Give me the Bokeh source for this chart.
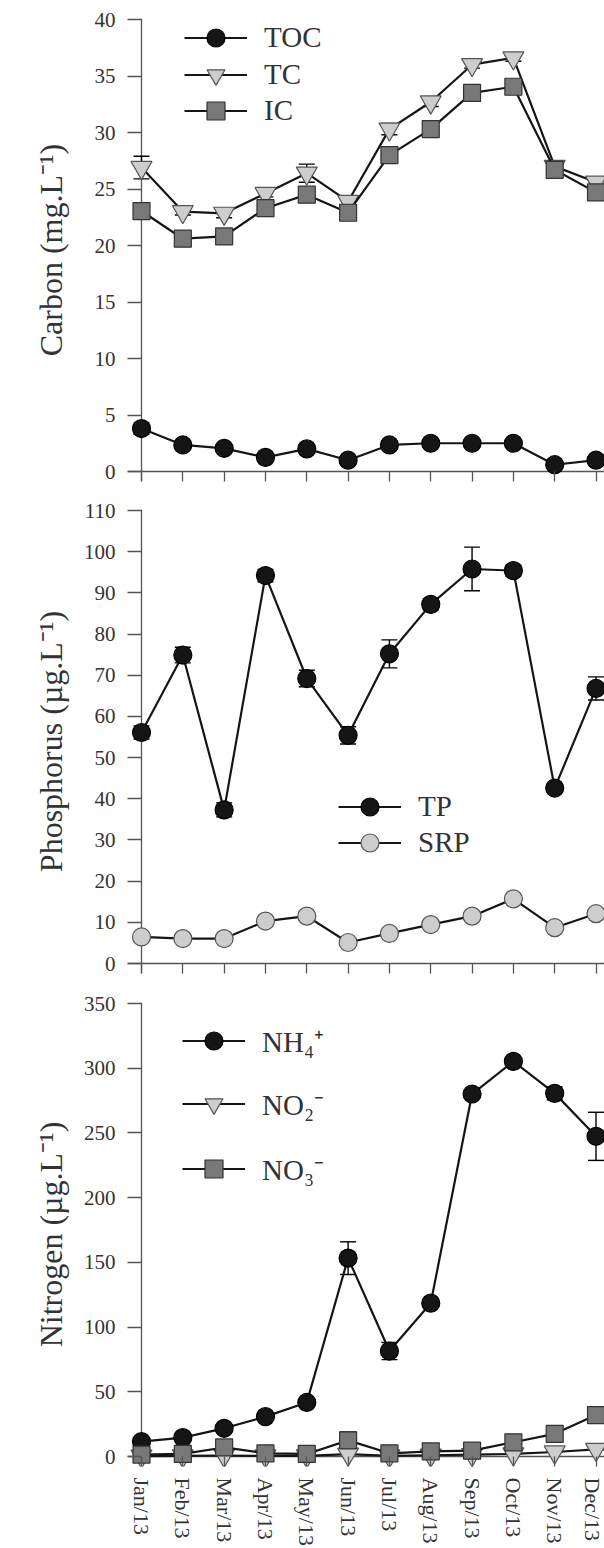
from bokeh.plotting import figure
from bokeh.models import (ColumnDataSource, Range1d, FixedTicker, Whisker, TeeHead,
                          Legend, LegendItem, Span)
from bokeh.layouts import column
from bokeh.embed import file_html
from bokeh.resources import INLINE

# ---------------- data ----------------
months = ["Jan/13", "Feb/13", "Mar/13", "Apr/13", "May/13", "Jun/13",
          "Jul/13", "Aug/13", "Sep/13", "Oct/13", "Nov/13", "Dec/13"]

toc = [3.8, 2.35, 2.05, 1.25, 2.0, 1.0, 2.35, 2.5, 2.5, 2.5, 0.6, 1.0]
toc_err = [0.5, 0.2, 0.2, 0.2, 0.2, 0.1, 0.2, 0.1, 0.1, 0.1, 0.1, 0.1]
tc = [26.9, 23.0, 22.85, 24.6, 26.4, 23.9, 30.3, 32.7, 36.0, 36.6, 27.0, 25.6]
tc_err = [1.0, 0.3, 0.4, 0.3, 0.8, 0.3, 0.5, 0.4, 0.3, 0.3, 0.4, 0.3]
ic = [23.05, 20.6, 20.8, 23.3, 24.5, 22.9, 28.0, 30.3, 33.5, 34.05, 26.7, 24.7]
ic_err = [0.4, 0.2, 0.3, 0.5, 0.6, 0.3, 0.4, 0.4, 0.3, 0.3, 0.3, 0.2]

tp = [56.1, 74.9, 37.3, 94.2, 69.2, 55.4, 75.2, 87.2, 95.8, 95.4, 42.6, 66.8]
tp_err = [1.6, 1.9, 1.7, 1.5, 2.0, 2.1, 3.4, 1.3, 5.3, 1.3, 0.5, 2.8]
srp = [6.45, 6.05, 6.05, 10.3, 11.5, 5.1, 7.3, 9.45, 11.5, 15.7, 8.7, 12.1]
srp_err = [0.5, 0.3, 0.3, 0.5, 0.6, 0.3, 0.4, 0.4, 0.4, 0.5, 0.4, 0.5]

nh4 = [11.5, 14.6, 21.8, 30.8, 41.8, 153.3, 81.5, 118.5, 280.1, 305.3, 280.6, 247.4]
nh4_err = [1.5, 1.5, 2.0, 2.0, 2.0, 12.6, 6.6, 2.0, 2.0, 2.0, 5.0, 18.6]
no2 = [0.3, 0.5, 0.8, 0.5, 0.5, 1.8, 0.5, 1.0, 1.5, 2.0, 3.5, 5.5]
no2_err = [0.2, 0.2, 0.2, 0.2, 0.2, 0.3, 0.2, 0.2, 0.2, 0.3, 0.3, 0.4]
no3 = [1.5, 2.0, 7.0, 2.5, 2.0, 12.5, 2.5, 4.0, 4.5, 11.0, 17.5, 32.0]
no3_err = [0.5, 0.5, 1.0, 0.5, 0.5, 6.5, 0.5, 0.5, 0.5, 1.0, 1.0, 1.5]

carbon_ticks = list(range(0, 41, 5))
phos_ticks = list(range(0, 111, 10))
nitro_ticks = list(range(0, 351, 50))

x = list(range(len(months)))

# ---------------- style ----------------
FONT = "Liberation Serif"
TXT = "#333333"
AX = "#555555"
BLACK = "#151515"
LIGHT = "#cdcdcd"
MID = "#787878"
W = 604
LEFT = 127          # frame left edge (px)
X_PX = 41.32        # px per month
X0 = 14             # px from frame left to Jan
TICK_IN = 10        # px between zero line and frame bottom


def make_fig(height, top, bottom, zero_px, ppu, ticks, ylabel, label_standoff, x_labels):
    frame_h = height - top - bottom
    y_end = (zero_px - top) / ppu
    y_start = y_end - frame_h / ppu
    frame_w = W - LEFT
    x_start = -X0 / X_PX
    x_end = x_start + frame_w / X_PX
    p = figure(width=W, height=height,
               x_range=Range1d(x_start, x_end), y_range=Range1d(y_start, y_end),
               output_backend="svg", toolbar_location=None,
               min_border_left=LEFT, min_border_right=0,
               min_border_top=top, min_border_bottom=bottom)
    p.outline_line_color = None
    p.grid.visible = False
    p.background_fill_color = "white"

    # axis lines through zero (drawn under the data)
    p.add_layout(Span(location=0, dimension="width", line_color=AX,
                      line_width=1.3, level="underlay"))
    p.add_layout(Span(location=0, dimension="height", line_color=AX,
                      line_width=1.3, level="underlay"))

    xa = p.xaxis[0]
    xa.ticker = FixedTicker(ticks=x)
    xa.axis_line_color = None
    xa.major_tick_in = TICK_IN
    xa.major_tick_out = 0
    xa.minor_tick_line_color = None
    xa.major_tick_line_color = AX
    xa.major_tick_line_width = 1.3
    if x_labels:
        xa.major_label_overrides = {i: m for i, m in enumerate(months)}
        xa.major_label_orientation = "vertical"
        xa.major_label_standoff = 11
        xa.major_label_text_font = FONT
        xa.major_label_text_font_size = "22px"
        xa.major_label_text_color = TXT
    else:
        xa.major_label_overrides = {i: "" for i in x}
        xa.major_label_standoff = 0

    ya = p.yaxis[0]
    ya.ticker = FixedTicker(ticks=ticks)
    ya.axis_line_color = None
    ya.major_tick_in = X0
    ya.major_tick_out = 0
    ya.minor_tick_line_color = None
    ya.major_tick_line_color = AX
    ya.major_tick_line_width = 1.3
    ya.major_label_standoff = 12
    ya.major_label_text_font = FONT
    ya.major_label_text_font_size = "21px"
    ya.major_label_text_color = TXT
    ya.axis_label = ylabel
    ya.axis_label_text_font = FONT
    ya.axis_label_text_font_size = "32px"
    ya.axis_label_text_font_style = "normal"
    ya.axis_label_text_color = TXT
    ya.axis_label_standoff = label_standoff
    return p


def add_series(p, vals, errs, marker, size, fill, line):
    lo = [v - e for v, e in zip(vals, errs)]
    hi = [v + e for v, e in zip(vals, errs)]
    src = ColumnDataSource(dict(x=x, y=vals, lo=lo, hi=hi))
    w = Whisker(source=src, base="x", upper="hi", lower="lo", dimension="height",
                line_color="black", line_width=1.4,
                upper_head=TeeHead(size=16, line_color="black", line_width=1.4),
                lower_head=TeeHead(size=16, line_color="black", line_width=1.4))
    p.add_layout(w)
    ln = p.line("x", "y", source=src, line_color=BLACK, line_width=2.2)
    sc = p.scatter("x", "y", source=src, marker=marker, size=size,
                   fill_color=fill, line_color=line, line_width=1.2)
    return ln, sc


def add_legend_rows(p, items, frame_bottom, x_px, row_centers):
    # one single-row legend per entry, so each row sits where the reference has it
    for (lab, rends), yc in zip(items, row_centers):
        lg = Legend(items=[LegendItem(label=lab, renderers=list(rends))],
                    location=(x_px - LEFT, frame_bottom - (yc + 22.5)),
                    glyph_width=63, glyph_height=45, label_height=45,
                    spacing=0, label_standoff=17, padding=0, margin=0,
                    border_line_color=None, background_fill_alpha=0,
                    label_text_font=FONT, label_text_font_size="29px",
                    label_text_color=TXT)
        p.add_layout(lg)


# ---------------- carbon ----------------
H1, T1, B1 = 496, 18, 15
p1 = make_fig(H1, T1, B1, 471, 11.3, carbon_ticks,
              "Carbon (mg.L\u207b\u00b9)", 23, False)
r_toc = add_series(p1, toc, toc_err, "circle", 18, BLACK, "black")
r_tc = add_series(p1, tc, tc_err, "inverted_triangle", 21, LIGHT, "#555555")
r_ic = add_series(p1, ic, ic_err, "square", 17, MID, "#333333")
add_legend_rows(p1, [("TOC", r_toc), ("TC", r_tc), ("IC", r_ic)],
                H1 - B1, 184, [37, 74, 110])

# ---------------- phosphorus ----------------
H2, T2, B2 = 494, 13, 17
O2 = H1
p2 = make_fig(H2, T2, B2, 963 - O2, 4.118, phos_ticks,
              "Phosphorus (\u00b5g.L\u207b\u00b9)", 12, False)
r_tp = add_series(p2, tp, tp_err, "circle", 18, BLACK, "black")
r_srp = add_series(p2, srp, srp_err, "circle", 18, LIGHT, "#555555")
add_legend_rows(p2, [("TP", r_tp), ("SRP", r_srp)],
                H2 - B2, 338, [806 - O2, 842 - O2])

# ---------------- nitrogen ----------------
H3, T3, B3 = 558, 12, 81
O3 = H1 + H2
p3 = make_fig(H3, T3, B3, 1457 - O3, 1.297, nitro_ticks,
              "Nitrogen (\u00b5g.L\u207b\u00b9)", 12, True)
r_nh4 = add_series(p3, nh4, nh4_err, "circle", 18, BLACK, "black")
r_no2 = add_series(p3, no2, no2_err, "inverted_triangle", 21, LIGHT, "#555555")
r_no3 = add_series(p3, no3, no3_err, "square", 17, MID, "#333333")
add_legend_rows(p3, [("NH\u2084\u207a", r_nh4), ("NO\u2082\u207b", r_no2), ("NO\u2083\u207b", r_no3)],
                H3 - B3, 182, [1041 - O3, 1104 - O3, 1169 - O3])

layout = column(p1, p2, p3)
open("out.html", "w").write(file_html(layout, INLINE))
